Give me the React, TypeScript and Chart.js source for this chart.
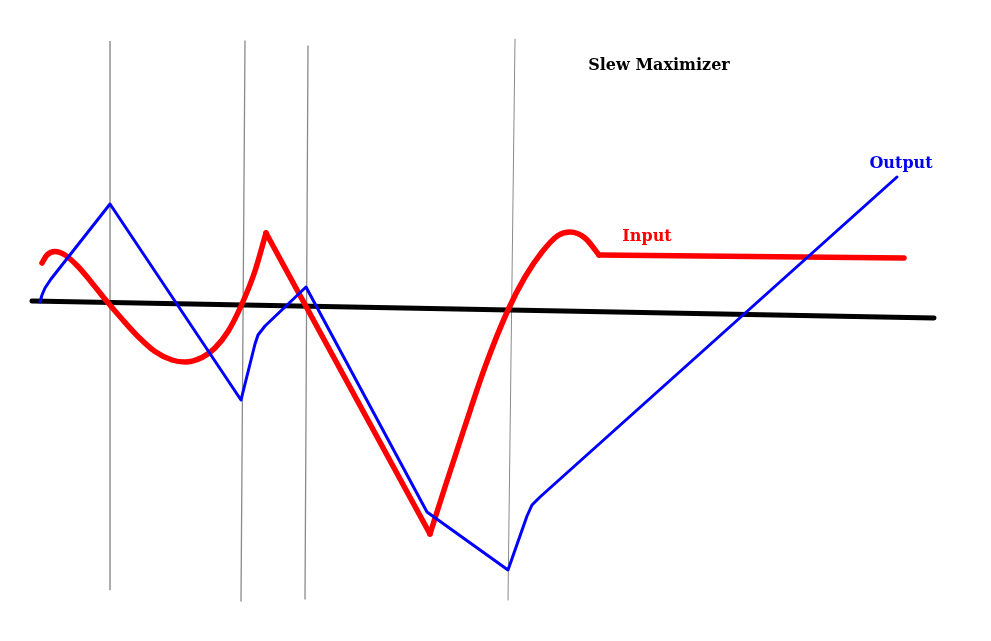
import React, { useEffect, useRef } from 'react';
import { Chart, registerables } from 'chart.js';

Chart.register(...registerables);

// Points, in canvas pixel units (y grows downward)
const baselinePts = [
  { x: 32, y: 301 },
  { x: 934, y: 318 },
];

const markerA = [{ x: 110, y: 41 }, { x: 110, y: 590 }];
const markerB = [{ x: 245, y: 41 }, { x: 241, y: 601 }];
const markerC = [{ x: 308, y: 46 }, { x: 305, y: 599 }];
const markerD = [{ x: 515, y: 39 }, { x: 508, y: 600 }];

// Input (red): smooth part, straight fall, smooth rise, flat hold
const inputCurve1 = [
  { x: 42, y: 263 }, { x: 47, y: 255 }, { x: 55, y: 251.5 }, { x: 65, y: 255 },
  { x: 78, y: 266.5 }, { x: 92, y: 283 }, { x: 107, y: 301.5 }, { x: 122, y: 319 },
  { x: 138, y: 336.5 }, { x: 155, y: 351.5 }, { x: 172, y: 360 }, { x: 185, y: 362 },
  { x: 202, y: 357.5 }, { x: 215, y: 348 }, { x: 228, y: 331.5 }, { x: 241.5, y: 305 },
  { x: 255, y: 271 }, { x: 266, y: 233 },
];
const inputFall = [{ x: 266, y: 233 }, { x: 430, y: 534 }];
const inputCurve2 = [
  { x: 430, y: 534 }, { x: 445, y: 487 }, { x: 465, y: 426 }, { x: 485, y: 367 },
  { x: 508, y: 310 }, { x: 525, y: 277 }, { x: 542, y: 252 }, { x: 558, y: 235.5 },
  { x: 570, y: 232 }, { x: 585, y: 238 }, { x: 599, y: 255 },
];
const inputHold = [{ x: 599, y: 255 }, { x: 904, y: 258 }];

// Output (blue)
const outputPts = [
  { x: 40, y: 302 }, { x: 42, y: 295 }, { x: 45, y: 288 }, { x: 51, y: 279 },
  { x: 110, y: 204 }, { x: 241, y: 400 }, { x: 255, y: 344 }, { x: 258, y: 335 },
  { x: 265, y: 326 }, { x: 306, y: 287 }, { x: 427, y: 512 }, { x: 508, y: 570 },
  { x: 527, y: 516 }, { x: 532, y: 505 }, { x: 540, y: 497 }, { x: 897, y: 177 },
];

const labelTexts = ['Slew Maximizer', 'Input', 'Output'];
const labelX = [659, 647, 901];
const labelY = [66, 237, 164];
const labelColors = ['#000000', '#ff0000', '#0000ee'];

const textPlugin = {
  id: 'diagramLabels',
  afterDatasetsDraw(chart: any) {
    const ctx = chart.ctx;
    const xs = chart.scales.x;
    const ys = chart.scales.y;
    ctx.save();
    ctx.font = "bold 16px 'DejaVu Serif', serif";
    ctx.textAlign = 'center';
    ctx.textBaseline = 'middle';
    labelTexts.forEach((t, i) => {
      ctx.fillStyle = labelColors[i];
      ctx.fillText(t, xs.getPixelForValue(labelX[i]), ys.getPixelForValue(labelY[i]));
    });
    ctx.restore();
  },
};

const SlewChart = () => {
  const chartRef = useRef<HTMLCanvasElement>(null);
  const chartInstance = useRef<Chart | null>(null);

  useEffect(() => {
    if (!chartRef.current) return;
    if (chartInstance.current) chartInstance.current.destroy();
    const ctx = chartRef.current.getContext('2d');
    if (!ctx) return;

    const line = (data: any[], color: string, width: number, order: number, smooth = false) => ({
      data,
      showLine: true,
      borderColor: color,
      borderWidth: width,
      pointRadius: 0,
      tension: smooth ? 0.4 : 0,
      cubicInterpolationMode: smooth ? 'monotone' : 'default',
      borderCapStyle: 'round',
      borderJoinStyle: 'round',
      order,
    });

    chartInstance.current = new Chart(ctx, {
      type: 'scatter',
      data: {
        datasets: [
          line(outputPts, '#0000ff', 3, 0) as any,
          line(inputCurve1, '#ff0000', 5.5, 1, true) as any,
          line(inputFall, '#ff0000', 5.5, 1) as any,
          line(inputCurve2, '#ff0000', 5.5, 1, true) as any,
          line(inputHold, '#ff0000', 5.5, 1) as any,
          line(baselinePts, '#000000', 5, 2) as any,
          line(markerA, '#a0a0a0', 1, 3) as any,
          line(markerB, '#8a8a8a', 1.3, 3) as any,
          line(markerC, '#8a8a8a', 1.3, 3) as any,
          line(markerD, '#8a8a8a', 1, 3) as any,
        ],
      },
      options: {
        animation: false,
        responsive: true,
        maintainAspectRatio: false,
        layout: { padding: 0 },
        plugins: { legend: { display: false }, tooltip: { enabled: false } },
        scales: {
          x: { type: 'linear', min: 0, max: 991, display: false },
          y: { type: 'linear', min: 0, max: 641, reverse: true, display: false },
        },
      },
      plugins: [textPlugin],
    });

    return () => {
      if (chartInstance.current) chartInstance.current.destroy();
    };
  }, []);

  return (
    <div style={{ position: 'absolute', left: 0, top: 0, width: 991, height: 641, background: '#fff' }}>
      <canvas ref={chartRef}></canvas>
    </div>
  );
};

export default function App() {
  return <SlewChart />;
}
